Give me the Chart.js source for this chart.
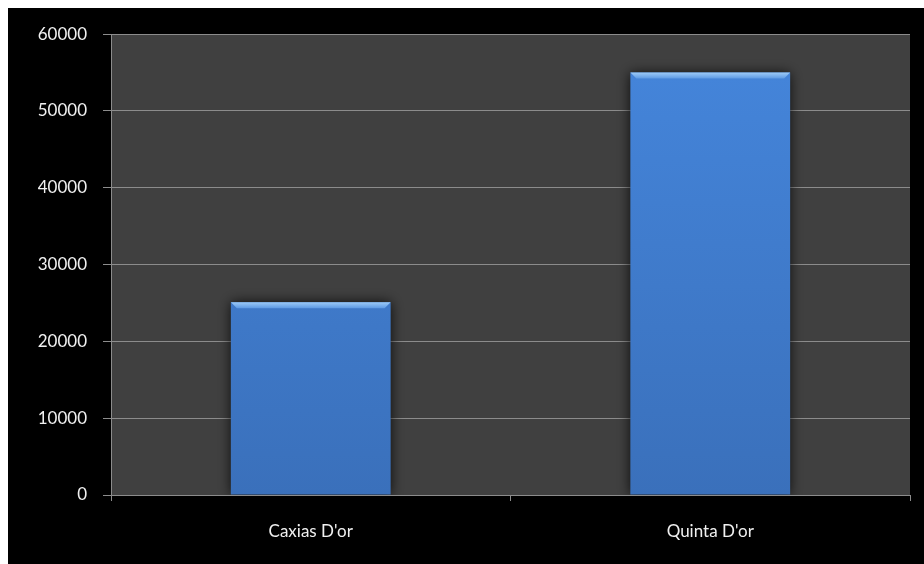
<!DOCTYPE html>
<html>
<head>
<meta charset="utf-8">
<script src="https://cdn.jsdelivr.net/npm/chart.js@4.4.1/dist/chart.umd.min.js"></script>
<style>
  body { margin: 0; background: #fff; }
  #wrap { position: absolute; left: 8px; top: 8px; width: 916px; height: 556px; background: #000; }
</style>
</head>
<body>
<div id="wrap"><canvas id="hospChart"></canvas></div>
<script>
const categories = ["Caxias D'or", "Quinta D'or"];
const values = [25100, 55000];
const yTicks = [0, 10000, 20000, 30000, 40000, 50000, 60000];

const ctx = document.getElementById('hospChart');

// paint the grey plot area behind the grid
const plotBg = {
    id: 'plotBg',
    beforeDraw(chart) {
        const a = chart.chartArea;
        const c = chart.ctx;
        c.save();
        c.fillStyle = '#404040';
        c.fillRect(a.left, a.top, a.right - a.left, a.bottom - a.top);
        c.restore();
    }
};

// soft shadow around the bars, then a light bevel on their tops
const barLook = {
    id: 'barLook',
    beforeDatasetsDraw(chart) {
        chart.ctx.save();
        chart.ctx.shadowColor = 'rgba(0,0,0,0.8)';
        chart.ctx.shadowBlur = 12;
    },
    afterDatasetsDraw(chart) {
        const c = chart.ctx;
        c.restore();
        c.save();
        chart.getDatasetMeta(0).data.forEach(bar => {
            const l = bar.x - bar.width / 2;
            const r = bar.x + bar.width / 2;
            const t = bar.y;
            const g = c.createLinearGradient(0, t, 0, t + 6);
            g.addColorStop(0, '#9ccaf7');
            g.addColorStop(1, '#5d9ae4');
            c.fillStyle = g;
            c.beginPath();
            c.moveTo(l, t);
            c.lineTo(r, t);
            c.lineTo(r - 6, t + 6);
            c.lineTo(l + 6, t + 6);
            c.closePath();
            c.fill();
        });
        c.restore();
    }
};

function barFill(context) {
    const area = context.chart.chartArea;
    if (!area) return '#3f7fd6';
    const g = context.chart.ctx.createLinearGradient(0, area.top, 0, area.bottom);
    g.addColorStop(0, '#4586dc');
    g.addColorStop(1, '#3a70bb');
    return g;
}

new Chart(ctx, {
    type: 'bar',
    data: {
        labels: categories,
        datasets: [{
            data: values,
            backgroundColor: barFill,
            borderWidth: 0,
            barPercentage: 0.8,
            categoryPercentage: 0.5
        }]
    },
    options: {
        responsive: true,
        maintainAspectRatio: false,
        animation: false,
        layout: {
            padding: {top: 25, right: 14, left: 0, bottom: 0}
        },
        plugins: {
            legend: {display: false},
            tooltip: {enabled: false}
        },
        scales: {
            x: {
                afterFit: s => { s.height = 69; },
                grid: {
                    display: true,
                    drawOnChartArea: false,
                    color: '#8c8c8c',
                    tickLength: 6,
                    offset: true
                },
                border: {color: '#8c8c8c', width: 1},
                ticks: {
                    color: '#f0f0f0',
                    font: {family: 'Lato', size: 17},
                    padding: 20
                }
            },
            y: {
                min: 0,
                max: 60000,
                afterFit: s => { s.width = 103; },
                afterBuildTicks: s => { s.ticks = yTicks.map(v => ({value: v})); },
                grid: {
                    color: '#8c8c8c',
                    tickLength: 8
                },
                border: {color: '#8c8c8c', width: 1},
                ticks: {
                    color: '#f0f0f0',
                    font: {family: 'Lato', size: 17},
                    padding: 16,
                    callback: v => String(v)
                }
            }
        }
    },
    plugins: [plotBg, barLook]
});
</script>
</body>
</html>
